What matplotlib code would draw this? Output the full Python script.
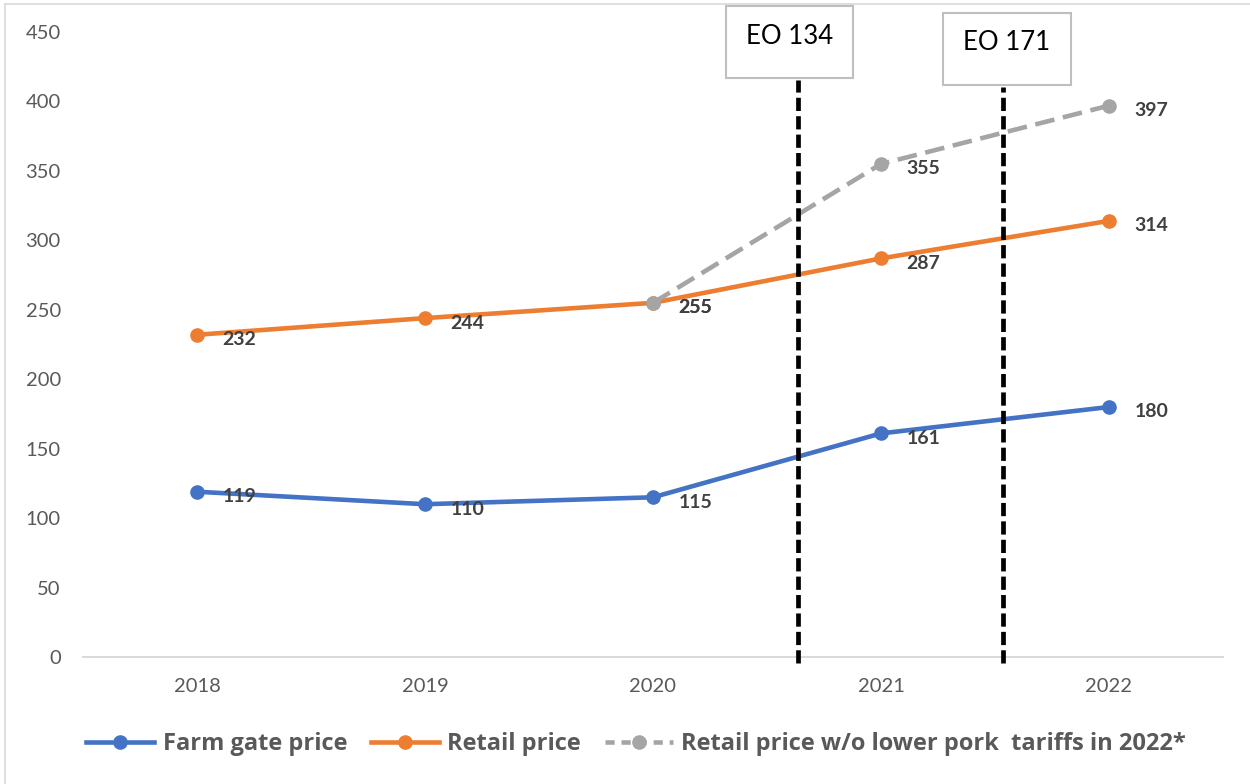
import matplotlib
matplotlib.use("Agg")
import matplotlib.pyplot as plt
import matplotlib.transforms as mtransforms
from matplotlib.patches import Rectangle
from matplotlib.lines import Line2D
import numpy as np

# ---- data ----
years = ["2018", "2019", "2020", "2021", "2022"]
farm_gate = [119, 110, 115, 161, 180]
retail = [232, 244, 255, 287, 314]
retail_no_tariff = [np.nan, np.nan, 255, 355, 397]
series_names = ["Farm gate price", "Retail price",
                "Retail price w/o lower pork  tariffs in 2022*"]
eo_labels = ["EO 134", "EO 171"]
eo_positions = [2.635, 3.535]   # position on the year axis
y_ticks = [0, 50, 100, 150, 200, 250, 300, 350, 400, 450]
title_text = "(Pesos per kg)"

# ---- style ----
BLUE = "#4472c4"
ORANGE = "#ed7d31"
GRAY = "#a5a5a5"
TXT = "#595959"
LBL = "#404040"
FONT = "Lato"

W, H = 1250, 784
fig = plt.figure(figsize=(W / 100, H / 100), dpi=100)
fig.patch.set_facecolor("white")

def fx(px):
    return px / W

def fy(py):
    return 1 - py / H

ax = fig.add_axes([fx(83), fy(657), fx(1223) - fx(83), fy(32) - fy(657)])
x = np.arange(len(years))

lw = 3.3
ms = 9.5
ax.plot(x, farm_gate, color=BLUE, lw=lw, marker="o", ms=ms, zorder=3,
        solid_capstyle="round", label=series_names[0])
ax.plot(x, retail, color=ORANGE, lw=lw, marker="o", ms=ms, zorder=3,
        solid_capstyle="round", label=series_names[1])
ax.plot(x, retail_no_tariff, color=GRAY, lw=lw, marker="o", ms=ms, zorder=4,
        dashes=(4.3, 1.9), label=series_names[2])

for series in (farm_gate, retail, retail_no_tariff):
    for xi, v in zip(x, series):
        if np.isnan(v):
            continue
        ax.annotate(f"{int(v)}", (xi, v), xytext=(18.5, -2.5),
                    textcoords="offset points", ha="left", va="center_baseline",
                    fontsize=14, fontweight="bold", color=LBL, family=FONT,
                    zorder=6)

ax.set_xlim(-0.5, len(years) - 0.5)
ax.set_ylim(0, 450)
ax.set_yticks(y_ticks)
ax.set_xticks(x)
ax.set_xticklabels(years)
for s in ["top", "right", "left"]:
    ax.spines[s].set_visible(False)
ax.spines["bottom"].set_color("#d9d9d9")
ax.spines["bottom"].set_linewidth(1.4)
ax.tick_params(axis="both", length=0, labelcolor=TXT, labelsize=14.5)
ax.tick_params(axis="x", pad=15)
ax.tick_params(axis="y", pad=16)
for t in ax.get_xticklabels() + ax.get_yticklabels():
    t.set_family(FONT)

# ---- EO markers ----
trans = mtransforms.blended_transform_factory(ax.transData, ax.transAxes)
eo_boxes = [(726, 6, 853, 78), (943, 13, 1071, 85)]
for lab, pos, (bx0, by0, bx1, by1) in zip(eo_labels, eo_positions, eo_boxes):
    ytop = (657 - (by1 + 2)) / 625
    ybot = (657 - 663) / 625
    ax.plot([pos, pos], [ybot, ytop], transform=trans, color="black",
            lw=3.4, dashes=(2.8, 1.1), clip_on=False, zorder=5)
    rect = Rectangle((fx(bx0), fy(by1)), fx(bx1) - fx(bx0), fy(by0) - fy(by1),
                     transform=fig.transFigure, facecolor="white",
                     edgecolor="#bfbfbf", lw=1.5, zorder=7)
    fig.add_artist(rect)
    fig.text(fx((bx0 + bx1) / 2), fy(by0 + 30), lab, ha="center",
             va="center", fontsize=18.5, family=FONT, color="black", zorder=8)

# ---- legend ----
handles = [
    Line2D([], [], color=BLUE, lw=lw, marker="o", ms=ms),
    Line2D([], [], color=ORANGE, lw=lw, marker="o", ms=ms),
    Line2D([], [], color=GRAY, lw=lw, marker="o", ms=ms, dashes=(2, 1.5)),
]
leg = fig.legend(handles, series_names, loc="center",
                 bbox_to_anchor=(fx(636), fy(744)), ncol=3, frameon=False,
                 handlelength=2.9, handletextpad=0.35, columnspacing=1.0,
                 prop={"family": "Open Sans", "weight": "bold", "size": 17})
for t in leg.get_texts():
    t.set_color(TXT)

# ---- chart border & cut-off title ----
fig.add_artist(Line2D([fx(5), fx(5)], [fy(4), 0], transform=fig.transFigure,
                      color="#d9d9d9", lw=1.2))
fig.add_artist(Line2D([fx(5), 1], [fy(4), fy(4)], transform=fig.transFigure,
                      color="#d9d9d9", lw=1.2))
fig.text(fx(236), fy(-8), title_text, ha="left", va="baseline", fontsize=28,
         fontweight="bold", family=FONT, color="black")

fig.savefig("out.png", dpi=100)
